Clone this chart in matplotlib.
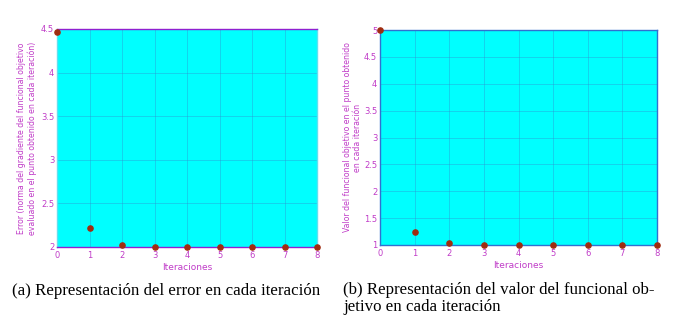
import matplotlib
matplotlib.use("Agg")
import matplotlib.pyplot as plt

# datos
iteraciones = [0, 1, 2, 3, 4, 5, 6, 7, 8]
error = [4.47, 2.22, 2.02, 2.0, 2.0, 2.0, 2.0, 2.0, 2.0]
valor = [5.0, 1.25, 1.03, 1.0, 1.0, 1.0, 1.0, 1.0, 1.0]

yticks_a = [2, 2.5, 3, 3.5, 4, 4.5]
yticks_b = [1, 1.5, 2, 2.5, 3, 3.5, 4, 4.5, 5]

txt_color = '#c03cc8'
pt_color = '#a02c10'

fig = plt.figure(figsize=(6.76, 3.19), dpi=100)

def panel(rect, y, yticks, ylim, ylabel, spine_color, label_x):
    ax = fig.add_axes(rect)
    ax.set_facecolor('#00ffff')
    ax.grid(True, color='#3090d0', linewidth=0.6, alpha=0.45)
    ax.set_axisbelow(True)
    ax.scatter(iteraciones, y, s=14, color=pt_color, zorder=5, clip_on=False)
    ax.set_xlim(0, 8)
    ax.set_ylim(*ylim)
    ax.set_xticks(iteraciones)
    ax.set_yticks(yticks)
    ax.set_yticklabels([('%g' % v) for v in yticks])
    ax.tick_params(labelsize=6, colors=txt_color, length=0, pad=3)
    ax.tick_params(axis='y', pad=2)
    ax.set_xlabel('Iteraciones', fontsize=6.5, color=txt_color, labelpad=2)
    ax.set_ylabel(ylabel, fontsize=5.6, color=txt_color, linespacing=1.15)
    ax.yaxis.set_label_coords(label_x, 0.5)
    for s in ax.spines.values():
        s.set_color(spine_color)
        s.set_linewidth(1.0)
    return ax

W, H = 676, 319
ax1 = panel([57 / W, 1 - 247 / H, 260 / W, 218 / H], error, yticks_a, (2, 4.5),
            'Error (norma del gradiente del funcional objetivo\n'
            'evaluado en el punto obtenido en cada iteración)', '#9020d0',
            -0.077)
ax1.spines['left'].set_color('#60e0f0')
ax1.spines['right'].set_color('#60e0f0')

ax2 = panel([380 / W, 1 - 245 / H, 277 / W, 215 / H], valor, yticks_b, (1, 5),
            'Valor del funcional objetivo en el punto obtenido\n'
            'en cada iteración', '#3070d0', -0.066)

cap = dict(fontsize=12.2, family='Liberation Serif', color='black', va='top')
fig.text(12 / W, 1 - 283 / H, '(a) Representación del error en cada iteración', **cap)
fig.text(343 / W, 1 - 282 / H, '(b) Representación del valor del funcional ob-\n'
         'jetivo en cada iteración', linespacing=1.1, **cap)

fig.savefig('out.png', dpi=100)
